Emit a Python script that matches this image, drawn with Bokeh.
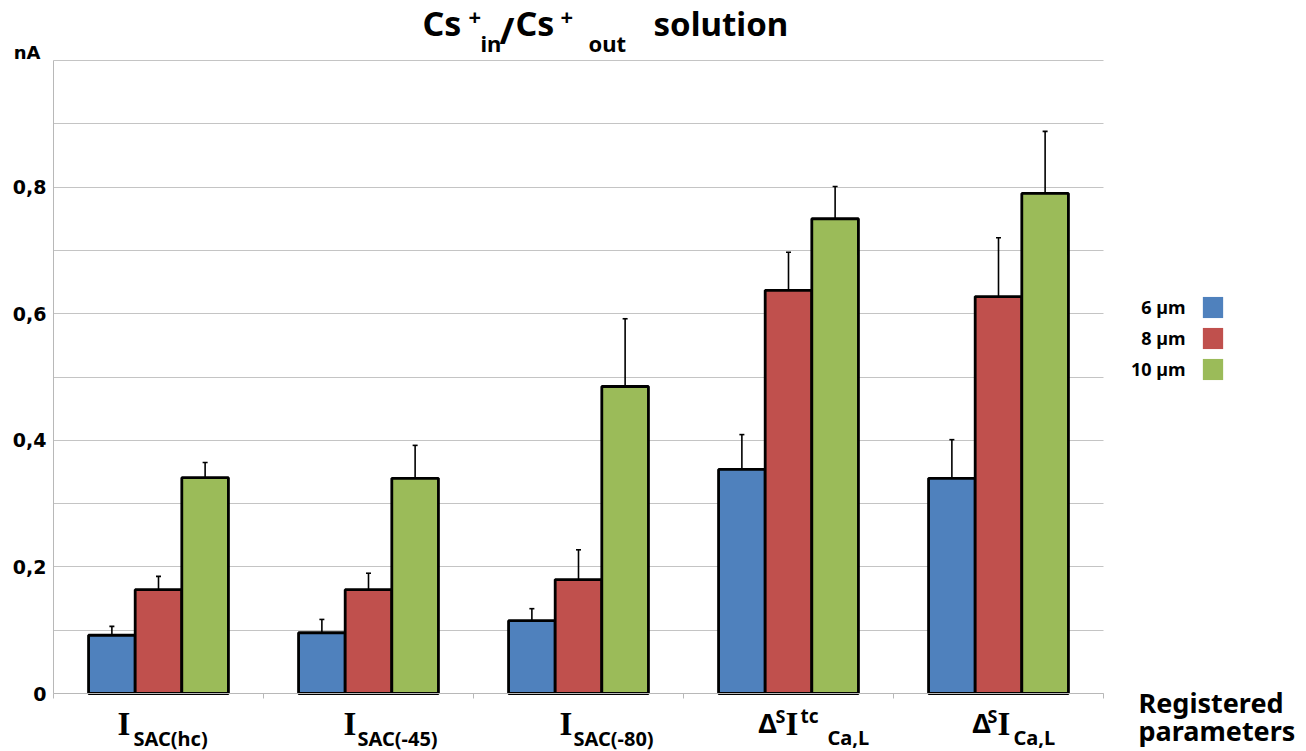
from bokeh.plotting import figure
from bokeh.models import Label, Whisker, TeeHead, ColumnDataSource, FixedTicker, Range1d, CustomJSTickFormatter, Grid
from bokeh.embed import file_html
from bokeh.resources import INLINE

# ---- data ----
categories = ["I_SAC(hc)", "I_SAC(-45)", "I_SAC(-80)", "ΔSI^tc_Ca,L", "ΔSI_Ca,L"]
series_names = ["6 µm", "8 µm", "10 µm"]
vals_6 = [0.092, 0.096, 0.115, 0.354, 0.340]
err_6 = [0.014, 0.021, 0.019, 0.055, 0.061]
vals_8 = [0.164, 0.164, 0.180, 0.637, 0.627]
err_8 = [0.021, 0.026, 0.047, 0.060, 0.093]
vals_10 = [0.341, 0.340, 0.485, 0.750, 0.790]
err_10 = [0.024, 0.052, 0.107, 0.051, 0.098]
y_ticks = [0.0, 0.1, 0.2, 0.3, 0.4, 0.5, 0.6, 0.7, 0.8, 0.9, 1.0]
y_max = 1.0
y_unit = "nA"
x_title = ["Registered", "parameters"]

colors = ["#4f81bd", "#c0504d", "#9bbb59"]
series_vals = [vals_6, vals_8, vals_10]
series_errs = [err_6, err_8, err_10]
bar_w = 0.222
offsets = [-bar_w, 0.0, bar_w]

SANS = "Noto Sans"
VERD = "DejaVu Sans"
SERIF = "Liberation Serif"
# empirical correction of the alphabetic baseline, per font (fraction of font size)
BASE_FIX = {SANS: 0.36, VERD: 0.31, SERIF: 0.33}

# canvas geometry: data area spans px 53..1103 (x) and 60..693 (y)
W, H = 1306, 751
L, R, T, B = 53, 1103, 60, 693
n = len(categories)
px_x = (R - L) / n
px_y = (B - T) / y_max
x_range = Range1d(-L / px_x, (W - L) / px_x)
y_range = Range1d(-(H - B) / px_y, B / px_y)

p = figure(width=W, height=H, x_range=x_range, y_range=y_range,
           output_backend="svg", toolbar_location=None,
           min_border_left=0, min_border_right=0, min_border_top=0, min_border_bottom=0)
p.title.visible = False
p.outline_line_color = None
p.background_fill_color = "white"
p.border_fill_color = "white"

# axes at fixed data locations
p.xgrid.visible = False
p.yaxis.fixed_location = 0
p.yaxis.bounds = (0, y_max)
p.yaxis.ticker = FixedTicker(ticks=y_ticks)
p.yaxis.formatter = CustomJSTickFormatter(code="""
const k = Math.round(tick*10);
if (k % 2 == 1 || k == 10) return "";
if (k == 0) return "0";
return (k/10).toFixed(1).replace(".", ",");
""")
p.yaxis.major_label_text_font = VERD
p.yaxis.major_label_text_font_style = "bold"
p.yaxis.major_label_text_font_size = "19px"
p.yaxis.major_label_text_color = "black"
p.yaxis.major_label_standoff = 7
p.yaxis.major_tick_out = 0
p.yaxis.major_tick_in = 0
p.yaxis.minor_tick_out = 0
p.yaxis.minor_tick_in = 0
p.yaxis.axis_line_color = "#b8b8b8"

p.ygrid.ticker = FixedTicker(ticks=y_ticks)
p.ygrid.grid_line_color = "#c4c4c4"
p.ygrid.grid_line_width = 1
p.ygrid.bounds = (0, y_max)
if "cross_bounds" in Grid.properties():
    p.ygrid.cross_bounds = (0, n)
else:
    p.ygrid.visible = False
    p.segment(x0=0, x1=n, y0=y_ticks, y1=y_ticks, line_color="#c4c4c4", line_width=1)

p.xaxis.fixed_location = 0
p.xaxis.bounds = (0, n)
p.xaxis.ticker = FixedTicker(ticks=list(range(n + 1)))
p.xaxis.major_label_text_font_size = "0px"
p.xaxis.major_tick_out = 5
p.xaxis.major_tick_in = 0
p.xaxis.minor_tick_out = 0
p.xaxis.minor_tick_in = 0
p.xaxis.major_tick_line_color = "#b8b8b8"
p.xaxis.axis_line_color = "#b8b8b8"

centers = [i + 0.5 for i in range(n)]

for vals, errs, col, off in zip(series_vals, series_errs, colors, offsets):
    xs = [c + off for c in centers]
    src = ColumnDataSource(dict(x=xs, top=vals, upper=[v + e for v, e in zip(vals, errs)]))
    w = Whisker(source=src, base="x", lower="top", upper="upper", dimension="height",
                line_color="black", line_width=1.6,
                upper_head=TeeHead(size=5, line_width=1.6, line_color="black"), lower_head=None)
    p.add_layout(w)
    p.vbar(x="x", top="top", bottom=0, width=bar_w, source=src, fill_color=col,
           line_color="black", line_width=2.8)


def txt(text, x, y, dx, dy, size, font=SANS, align="left", baseline="alphabetic", style="bold"):
    if baseline == "alphabetic":
        dy = dy + BASE_FIX[font] * size
    p.add_layout(Label(x=x, y=y, x_offset=dx, y_offset=dy, text=text, text_font=font,
                       text_font_size=f"{size}px", text_font_style=style, text_color="black",
                       text_align=align, text_baseline=baseline))


# category labels (pieces: text, font, size, dx, dy of baseline below the x axis)
cat_pieces = [
    [("I", SERIF, 33, -41, -41), ("SAC(hc)", SANS, 20, -25, -52)],
    [("I", SERIF, 33, -25, -41), ("SAC(-45)", SANS, 20, -11, -52)],
    [("I", SERIF, 33, -19, -41), ("SAC(-80)", SANS, 20, -5, -52)],
    [("Δ", SANS, 27, -30, -39), ("S", SANS, 18, -13, -29), ("I", SERIF, 33, -3, -41),
     ("tc", SANS, 19, 12, -29), ("Ca,L", SANS, 20, 39, -51)],
    [("Δ", SANS, 27, -26, -39), ("S", SANS, 18, -11, -29), ("I", SERIF, 33, -1, -41),
     ("Ca,L", SANS, 20, 15, -51)],
]
for c, pieces in zip(centers, cat_pieces):
    for t, f, s, dx, dy in pieces:
        txt(t, c, 0, dx, dy, s, font=f)

# axis titles
txt(y_unit, 0, y_max, -13, 2, 18, font=VERD, align="right")
txt(x_title[0], n, 0, 35, -19, 27)
txt(x_title[1], n, 0, 35, -47, 27)

# chart title pieces (text, size, dx from left of data area, baseline above the top)
title_pieces = [("Cs", 34, 369, 25), ("+", 22, 415, 35), ("in", 22, 427, 10), ("/", 36, 446, 17),
                ("Cs", 34, 462, 25), ("+", 22, 507, 35), ("out", 22, 535, 10), ("solution", 33, 600, 25)]
for t, s, dx, dy in title_pieces:
    txt(t, 0, y_max, dx, dy, s)

# legend (text left of colour square)
leg_dy = [386, 355, 324]
for name, col, dy in zip(series_names, colors, leg_dy):
    txt(name, n, 0, 82, dy + 1, 18, align="right", baseline="middle")
    p.add_layout(Label(x=n, y=0, x_offset=109.5, y_offset=dy, text=" ",
                       text_font_size="1px", text_align="center", text_baseline="middle",
                       background_fill_color=col, padding=10))

open("out.html", "w").write(file_html(p, INLINE))
